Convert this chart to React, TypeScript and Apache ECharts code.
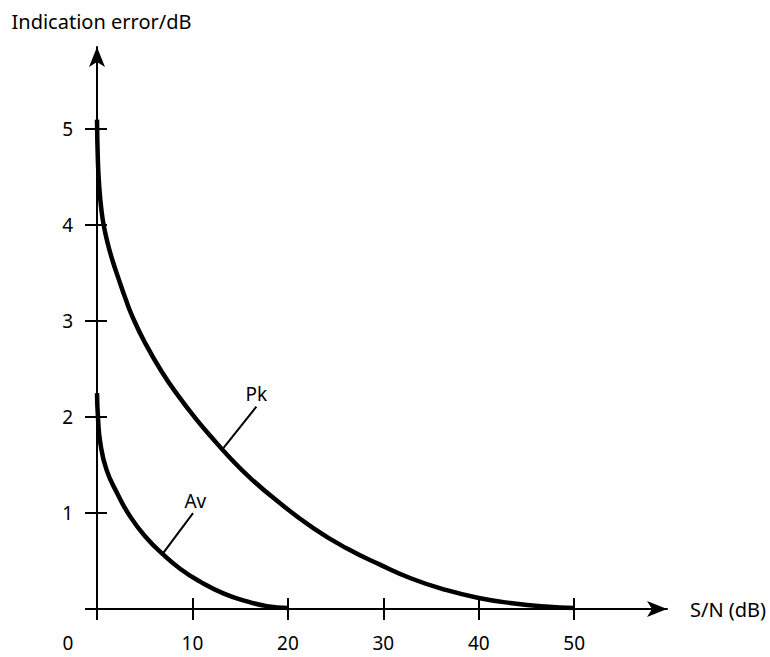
import React, { useEffect, useRef } from "react";
import * as echarts from "echarts";

// S/N (dB) values and indication error (dB)
const pkX = [0, 0.1, 0.25, 0.45, 0.7, 1.1, 1.6, 2.3, 3.0, 3.7, 5.0, 6.8, 8.6, 10.3, 12.0, 13.8, 15.9, 18.7, 22.7, 26.2, 29.7, 33, 36.5, 40, 43.5, 47, 50];
const pkY = [5.1, 4.65, 4.38, 4.17, 4.0, 3.82, 3.64, 3.43, 3.23, 3.05, 2.78, 2.47, 2.21, 1.99, 1.79, 1.59, 1.38, 1.14, 0.84, 0.63, 0.46, 0.315, 0.2, 0.115, 0.06, 0.025, 0.01];
const avX = [0, 0.1, 0.35, 1.0, 2.1, 3.5, 5.2, 6.8, 8.7, 10.8, 13.3, 15.7, 17.8, 20];
const avY = [2.25, 2.0, 1.73, 1.45, 1.21, 0.96, 0.74, 0.58, 0.42, 0.285, 0.16, 0.08, 0.03, 0.01];

const pkLeader = [[13.26, 1.68], [16.7, 2.11]];
const avLeader = [[6.91, 0.58], [10.06, 1.0]];
const curveLabels = [
  { name: "Pk", value: [16.7, 2.24] },
  { name: "Av", value: [10.3, 1.13] },
];

const xTicks = [0, 10, 20, 30, 40, 50];
const yTicks = [0, 1, 2, 3, 4, 5];
const yLabelTicks = [1, 2, 3, 4, 5];
const xTitle = "S/N (dB)";
const yTitle = "Indication error/dB";

const FONT = "Noto Sans";
const FS = 19;
const TITLE_FS = 20;

export default function App() {
  const ref = useRef<HTMLDivElement>(null);
  useEffect(() => {
    if (!ref.current) return;
    const chart = echarts.init(ref.current, undefined, { renderer: "svg" });
    const zip = (xs: number[], ys: number[]) => xs.map((x, i) => [x, ys[i]]);
    const X_MAX = 59.72;
    const Y_MAX = 5.857;
    chart.setOption({
      animation: false,
      backgroundColor: "#ffffff",
      grid: { left: 97, top: 47, right: 103, bottom: 48 },
      xAxis: [
        {
          type: "value",
          position: "bottom",
          min: 0,
          max: X_MAX,
          interval: 10,
          name: xTitle,
          nameLocation: "end",
          nameGap: 23,
          nameTextStyle: { fontFamily: FONT, fontSize: TITLE_FS, color: "#000" },
          axisLine: {
            show: true,
            symbol: ["none", "arrow"],
            symbolSize: [12, 20],
            lineStyle: { color: "#000", width: 2 },
          },
          axisTick: {
            show: true,
            inside: false,
            length: 11,
            customValues: xTicks,
            lineStyle: { color: "#000", width: 2 },
          },
          axisLabel: {
            show: true,
            margin: 24,
            fontFamily: FONT,
            fontSize: FS,
            color: "#000",
            customValues: xTicks,
            formatter: (v: number) => (v === 0 ? "{o|0}" : String(v)),
            rich: { o: { fontFamily: FONT, fontSize: FS, color: "#000", padding: [0, 58, 0, 0] } },
          },
          splitLine: { show: false },
        },
        {
          type: "value",
          position: "bottom",
          min: 0,
          max: X_MAX,
          interval: 10,
          axisLine: { show: false },
          axisTick: {
            show: true,
            inside: true,
            length: 11,
            customValues: xTicks,
            lineStyle: { color: "#000", width: 2 },
          },
          axisLabel: { show: false },
          splitLine: { show: false },
        },
      ],
      yAxis: [
        {
          type: "value",
          position: "left",
          min: 0,
          max: Y_MAX,
          interval: 1,
          name: yTitle,
          nameLocation: "end",
          nameGap: 16,
          nameTextStyle: { fontFamily: FONT, fontSize: TITLE_FS, color: "#000", padding: [0, 0, 0, 9] },
          axisLine: {
            show: true,
            symbol: ["none", "arrow"],
            symbolSize: [12, 20],
            lineStyle: { color: "#000", width: 2 },
          },
          axisTick: {
            show: true,
            inside: false,
            length: 12,
            customValues: yTicks,
            lineStyle: { color: "#000", width: 2 },
          },
          axisLabel: {
            show: true,
            margin: 24,
            fontFamily: FONT,
            fontSize: FS,
            color: "#000",
            customValues: yLabelTicks,
            formatter: (v: number) => String(v),
          },
          splitLine: { show: false },
        },
        {
          type: "value",
          position: "left",
          min: 0,
          max: Y_MAX,
          interval: 1,
          axisLine: { show: false },
          axisTick: {
            show: true,
            inside: true,
            length: 10,
            customValues: yTicks,
            lineStyle: { color: "#000", width: 2 },
          },
          axisLabel: { show: false },
          splitLine: { show: false },
        },
      ],
      series: [
        {
          type: "line",
          name: "Pk",
          data: zip(pkX, pkY),
          smooth: 0.5,
          showSymbol: false,
          lineStyle: { color: "#000", width: 4.5 },
        },
        {
          type: "line",
          name: "Av",
          data: zip(avX, avY),
          smooth: 0.5,
          showSymbol: false,
          lineStyle: { color: "#000", width: 4.5 },
        },
        {
          type: "line",
          data: pkLeader,
          showSymbol: false,
          lineStyle: { color: "#000", width: 2 },
        },
        {
          type: "line",
          data: avLeader,
          showSymbol: false,
          lineStyle: { color: "#000", width: 2 },
        },
        {
          type: "scatter",
          data: curveLabels,
          symbolSize: 1,
          itemStyle: { color: "transparent", opacity: 1 },
          label: {
            show: true,
            position: "inside",
            formatter: (p: any) => p.name,
            fontFamily: FONT,
            fontSize: FS,
            color: "#000",
            opacity: 1,
          },
        },
      ],
    });
    return () => chart.dispose();
  }, []);
  return (
    <div
      ref={ref}
      style={{ position: "fixed", left: 0, top: 0, width: 770, height: 657, background: "#fff" }}
    />
  );
}
